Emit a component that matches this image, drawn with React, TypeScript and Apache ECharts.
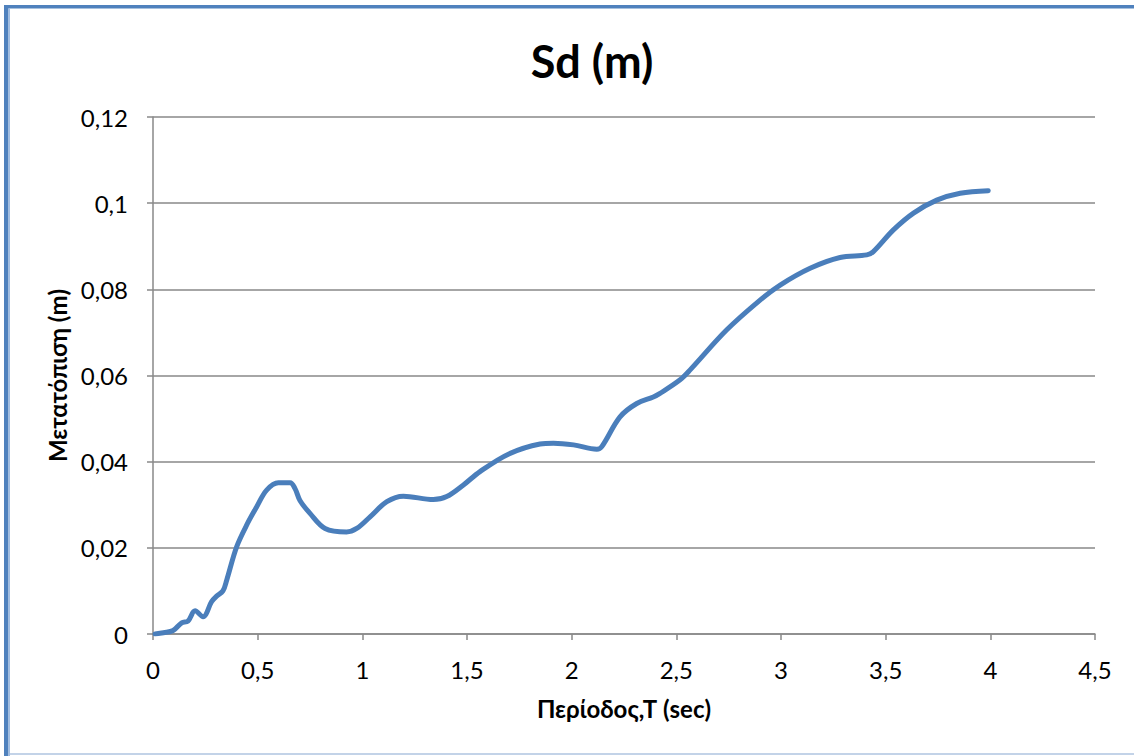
import React, { useEffect, useRef } from "react";
import * as echarts from "echarts";

// Period T (sec) and spectral displacement Sd (m)
const periods = [
  0.01, 0.05, 0.096, 0.137, 0.167, 0.201, 0.239, 0.28, 0.304, 0.334, 0.352, 0.4,
  0.455, 0.495, 0.543, 0.599, 0.655, 0.678, 0.702, 0.75, 0.822, 0.925, 0.973,
  1.037, 1.117, 1.196, 1.339, 1.403, 1.483, 1.562, 1.7, 1.849, 1.913, 2.009,
  2.12, 2.144, 2.231, 2.311, 2.39, 2.42, 2.518, 2.566, 2.741, 2.9, 2.996, 3.139,
  3.282, 3.41, 3.44, 3.537, 3.633, 3.744, 3.856, 3.99,
];
const displacements = [
  0, 0.0003, 0.0008, 0.0026, 0.003, 0.0054, 0.004, 0.0075, 0.0088, 0.01, 0.0125,
  0.0203, 0.026, 0.0295, 0.0334, 0.0351, 0.0351, 0.0338, 0.031, 0.028, 0.0245,
  0.0237, 0.0245, 0.0272, 0.0307, 0.032, 0.0312, 0.0319, 0.0346, 0.0377, 0.0418,
  0.0441, 0.0443, 0.0439, 0.0429, 0.0435, 0.0504, 0.0535, 0.055, 0.0558, 0.059,
  0.0613, 0.0706, 0.0775, 0.081, 0.0849, 0.0874, 0.088, 0.0887, 0.0938, 0.0977,
  0.1007, 0.1023, 0.1029,
];

const titleText = "Sd (m)";
const xName = "Περίοδος,Τ (sec)";
const yName = "Μετατόπιση (m)";

const FONT = "Lato, 'Open Sans', sans-serif";
const GRID_GRAY = "#898989";

const comma = (v: number) => String(+v.toFixed(2)).replace(".", ",");

export default function App() {
  const ref = useRef<HTMLDivElement>(null);

  useEffect(() => {
    if (!ref.current) return;
    const chart = echarts.init(ref.current, null, { renderer: "svg" });
    const data = periods.map((t, i) => [t, displacements[i]]);

    chart.setOption({
      animation: false,
      backgroundColor: "#ffffff",
      title: {
        text: titleText,
        left: 587,
        top: 33,
        textAlign: "center",
        textStyle: { fontFamily: FONT, fontWeight: "bold", fontSize: 45, color: "#000" },
      },
      graphic: [
        { type: "rect", shape: { x: 4, y: 5, width: 1130, height: 3.5 }, style: { fill: "#4f81bd" } },
        { type: "rect", shape: { x: 4, y: 5, width: 4.5, height: 751 }, style: { fill: "#4f81bd" } },
        { type: "rect", shape: { x: 8.5, y: 8, width: 1.5, height: 748 }, style: { fill: "#9fbbe0" } },
        { type: "rect", shape: { x: 10, y: 753, width: 1124, height: 2 }, style: { fill: "#c3d3e8" } },
      ],
      grid: { left: 153, right: 39, top: 117, bottom: 122 },
      xAxis: {
        type: "value",
        min: 0,
        max: 4.5,
        interval: 0.5,
        name: xName,
        nameLocation: "middle",
        nameGap: 62,
        nameTextStyle: { fontFamily: FONT, fontWeight: "bold", fontSize: 24, color: "#000" },
        axisLine: { show: true, lineStyle: { color: GRID_GRAY, width: 1.5 } },
        axisTick: { show: true, length: 6, lineStyle: { color: GRID_GRAY, width: 1.5 } },
        axisLabel: { formatter: comma, margin: 23, fontFamily: FONT, fontSize: 24, color: "#000" },
        splitLine: { show: false },
      },
      yAxis: {
        type: "value",
        min: 0,
        max: 0.12,
        interval: 0.02,
        name: yName,
        nameLocation: "middle",
        nameGap: 83,
        nameRotate: 90,
        nameTextStyle: { fontFamily: FONT, fontWeight: "bold", fontSize: 24, color: "#000" },
        axisLine: { show: true, lineStyle: { color: GRID_GRAY, width: 1.5 } },
        axisTick: { show: true, length: 6, lineStyle: { color: GRID_GRAY, width: 1.5 } },
        axisLabel: { formatter: comma, margin: 25, fontFamily: FONT, fontSize: 24, color: "#000" },
        splitLine: { show: true, lineStyle: { color: GRID_GRAY, width: 1.5 } },
      },
      series: [
        {
          type: "line",
          data,
          smooth: 0.35,
          showSymbol: false,
          lineStyle: { color: "#4a7ebb", width: 5, cap: "round", join: "round" },
        },
      ],
    });

    return () => chart.dispose();
  }, []);

  return (
    <div
      ref={ref}
      style={{ position: "fixed", left: 0, top: 0, width: 1134, height: 756 }}
    />
  );
}
